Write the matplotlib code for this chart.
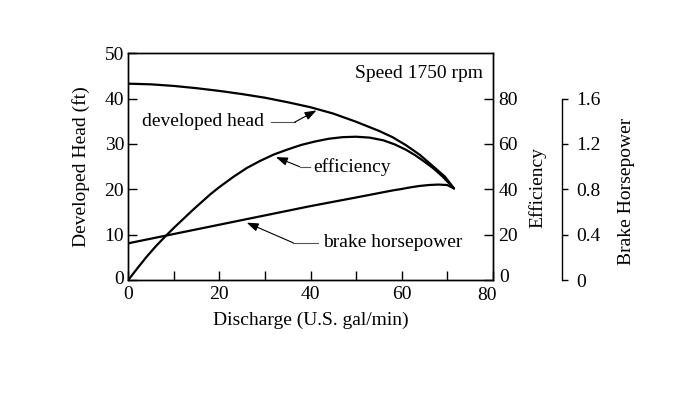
import numpy as np
import matplotlib
matplotlib.use('Agg')
import matplotlib.pyplot as plt
from matplotlib.transforms import ScaledTranslation

plt.rcParams['font.family'] = ['Liberation Serif', 'DejaVu Serif']
plt.rcParams['font.size'] = 14

# developed head (ft) vs discharge (gal/min)
head_q = [0, 5, 10, 15, 20, 25, 30, 35, 40, 45, 50, 55, 58, 61, 64, 67, 69.5, 71.5]
head_ft = [43.3, 43.15, 42.8, 42.3, 41.7, 41.0, 40.2, 39.2, 38.1, 36.7, 34.9, 32.9,
           31.5, 29.7, 27.6, 25.0, 22.8, 20.2]

# efficiency (%)
eff_q = [0, 2, 4, 6, 8, 10, 12, 14, 16, 18, 20, 23, 26, 29, 32, 35, 38, 41, 44, 47,
         50, 53, 56, 58.5, 61, 63, 65, 67, 69, 71.5]
eff_pct = [0, 5.2, 10.2, 14.8, 19.0, 23.0, 26.8, 30.6, 34.2, 37.8, 41.0, 45.4, 49.4,
           52.6, 55.4, 57.6, 59.6, 61.1, 62.3, 63.0, 63.2, 62.8, 61.6, 59.8, 57.4,
           55.0, 52.2, 49.2, 45.6, 40.4]

# brake horsepower
bhp_q = [0, 20, 40, 50, 58, 60, 62, 64, 66, 68, 70, 71.5]
bhp_hp = [0.324, 0.488, 0.652, 0.728, 0.79, 0.803, 0.818, 0.83, 0.838, 0.842, 0.838, 0.808]

x_ticks = [0, 20, 40, 60, 80]
x_minor = [10, 30, 50, 70]
head_ticks = [0, 10, 20, 30, 40, 50]
eff_ticks = [0, 20, 40, 60, 80]
bhp_ticks = [0, 0.4, 0.8, 1.2, 1.6]
bhp_labels = ['0', '0.4', '0.8', '1.2', '1.6']

fig = plt.figure(figsize=(7, 3.95), dpi=100)
ax = fig.add_axes([0.1833, 0.2911, 0.5206, 0.574])
ax2 = ax.twinx()
ax3 = ax.twinx()

ax.plot(head_q, head_ft, color='black', lw=1.6, solid_capstyle='round')
ax2.plot(eff_q, eff_pct, color='black', lw=1.6, solid_capstyle='round')
ax3.plot(bhp_q, bhp_hp, color='black', lw=1.6, solid_capstyle='round')

ax.set_xlim(0, 80)
ax.set_ylim(0, 50)
ax2.set_ylim(0, 100)
ax3.set_ylim(0, 2)

for a in (ax, ax2, ax3):
    for s in a.spines.values():
        s.set_linewidth(1.0)

ax.set_xticks(x_ticks)
ax.set_xticks(x_minor, minor=True)
ax.set_yticks(head_ticks)
ax.tick_params(axis='both', which='both', direction='in', length=6.5, width=1.0)
ax.tick_params(axis='x', pad=4)
ax.tick_params(axis='y', pad=3)

ax2.set_yticks(eff_ticks)
ax2.tick_params(axis='y', direction='in', length=6.5, width=1.0, pad=4)

ax3.spines['right'].set_position(('axes', 1.1893))
ax3.spines['right'].set_bounds(0, 1.6)
for s in ('top', 'left', 'bottom'):
    ax3.spines[s].set_visible(False)
ax3.set_yticks(bhp_ticks)
ax3.set_yticklabels(bhp_labels)
ax3.tick_params(axis='y', direction='out', length=4.5, width=1.0, pad=6)

# nudge the crowded corner labels like in the original
lab80 = ax.xaxis.get_major_ticks()[-1].label1
lab80.set_transform(lab80.get_transform() + ScaledTranslation(-4 / 72, -1 / 72, fig.dpi_scale_trans))
lab0 = ax2.yaxis.get_major_ticks()[0].label2
lab0.set_transform(lab0.get_transform() + ScaledTranslation(1 / 72, 3 / 72, fig.dpi_scale_trans))
laby0 = ax.yaxis.get_major_ticks()[0].label1
laby0.set_transform(laby0.get_transform() + ScaledTranslation(0, 2 / 72, fig.dpi_scale_trans))

ax.set_xlabel('Discharge (U.S. gal/min)')
ax.xaxis.set_label_coords(0.5, -0.18)
ax.xaxis.label.set_va('center')
ax.set_ylabel('Developed Head (ft)')
ax.yaxis.set_label_coords(-0.13, 0.5)
ax.yaxis.label.set_va('center')
ax2.set_ylabel('Efficiency')
ax2.yaxis.set_label_coords(1.124, 0.41)
ax2.yaxis.label.set_va('center')
ax3.set_ylabel('Brake Horsepower')
ax3.yaxis.set_label_coords(1.368, 0.39)
ax3.yaxis.label.set_va('center')

ax.text(0.973, 0.913, 'Speed 1750 rpm', transform=ax.transAxes, ha='right', va='center')

# curve labels with leader lines
lead = dict(color='#555555', lw=0.8)
arr = dict(arrowstyle='-|>,head_length=0.5,head_width=0.18', color='black', lw=0.8,
           shrinkA=0, shrinkB=0)

ax.text(16.5, 34.9, 'developed head', ha='center', va='center')
ax.plot([31.3, 36.5], [34.8, 34.8], **lead)
ax.annotate('', xy=(41.3, 37.4), xytext=(36.5, 34.8), arrowprops=arr)

ax.text(40.5, 25.0, 'efficiency', ha='left', va='center')
ax.plot([37.6, 39.8], [25.0, 25.0], **lead)
ax.annotate('', xy=(32.4, 27.1), xytext=(37.6, 25.0), arrowprops=arr)

ax.text(42.7, 8.3, 'brake horsepower', ha='left', va='center')
ax.plot([36.2, 41.6], [8.2, 8.2], **lead)
ax.annotate('', xy=(26.0, 12.65), xytext=(36.2, 8.2), arrowprops=arr)

fig.savefig('out.png', dpi=100)
